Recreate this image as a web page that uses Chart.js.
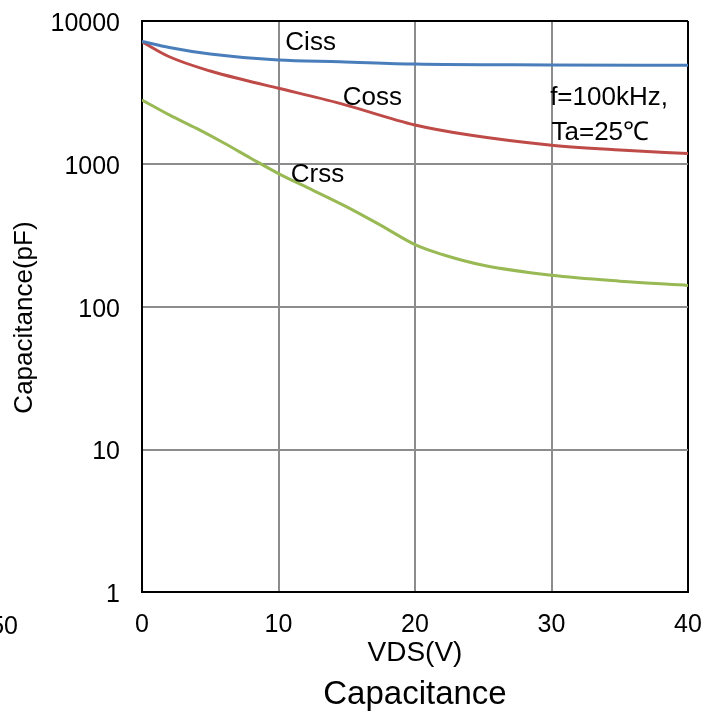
<!DOCTYPE html>
<html>
<head>
<meta charset="utf-8">
<script src="https://cdn.jsdelivr.net/npm/chart.js@4/dist/chart.umd.min.js"></script>
<style>
  html, body { margin: 0; padding: 0; background: #fff; }
  #wrap { width: 718px; height: 716px; }
</style>
</head>
<body>
<div id="wrap"><canvas id="chartCap"></canvas></div>
<script>
// ── Capacitance vs VDS ──────────────────────────────────────────────

const X_TICKS = [0, 10, 20, 30, 40];
const Y_TICKS = [1, 10, 100, 1000, 10000];

// VDS (V) sample points and capacitance (pF)
const CISS_VDS = [0, 2, 5, 10, 14.5, 20, 30, 40];
const CISS_PF  = [7200, 6520, 5870, 5330, 5190, 5000, 4930, 4900];

const COSS_VDS = [0, 2, 5, 7.5, 10, 14.5, 20, 24, 30, 35, 40];
const COSS_PF  = [7160, 5620, 4465, 3860, 3380, 2650, 1870, 1590, 1350, 1250, 1180];

const CRSS_VDS = [0, 2, 4, 6, 8, 10, 12.5, 15, 17.5, 20, 22, 25, 30, 35, 40];
const CRSS_PF  = [2800, 2200, 1770, 1400, 1090, 855, 655, 500, 371, 272, 232, 195, 166, 151, 141];

// in-plot labels: text, anchor VDS, anchor pF (left edge, vertical middle)
const LABEL_TEXT = ['Ciss', 'Coss', 'Crss', 'f=100kHz,', 'Ta=25\u2103'];
const LABEL_VDS  = [10.5, 14.7, 10.9, 29.9, 30];
const LABEL_PF   = [7010, 2890, 834, 2890, 1641];

const FONT      = '"Liberation Sans", Arial, sans-serif';
const GRID_GREY = '#8c8c8c';

const pts = (xs, ys) => xs.map((x, i) => ({ x, y: ys[i] }));

const labelsPlugin = {
  id: 'curveLabels',
  afterDatasetsDraw(chart) {
    const { ctx, scales: { x, y } } = chart;
    ctx.save();
    ctx.fillStyle = '#000';
    ctx.font = '26px ' + FONT;
    ctx.textAlign = 'left';
    ctx.textBaseline = 'middle';
    LABEL_TEXT.forEach((t, i) => {
      ctx.fillText(t, x.getPixelForValue(LABEL_VDS[i]), y.getPixelForValue(LABEL_PF[i]));
    });
    // leftover tick text clipped at the left edge
    ctx.textAlign = 'right';
    ctx.font = '25px ' + FONT;
    ctx.fillText('50', 18, 627);
    ctx.restore();
  }
};

const line = (label, data, color) => ({
  label, data,
  borderColor: color,
  borderWidth: 3,
  pointRadius: 0,
  cubicInterpolationMode: 'monotone',
  fill: false
});

new Chart(document.getElementById('chartCap'), {
  type: 'line',
  data: {
    datasets: [
      line('Ciss', pts(CISS_VDS, CISS_PF), '#4a7ebb'),
      line('Coss', pts(COSS_VDS, COSS_PF), '#be4b48'),
      line('Crss', pts(CRSS_VDS, CRSS_PF), '#98b954')
    ]
  },
  options: {
    responsive: true,
    maintainAspectRatio: false,
    animation: false,
    layout: { padding: { top: 21, right: 30, left: 0, bottom: 0 } },
    plugins: {
      legend:  { display: false },
      tooltip: { enabled: false },
      title: {
        display: true, position: 'bottom', fullSize: false, text: 'Capacitance', color: '#000',
        font: { family: FONT, size: 33, weight: 'normal' },
        padding: { top: 3, bottom: 1 }
      }
    },
    scales: {
      x: {
        type: 'linear', min: 0, max: 40,
        afterBuildTicks: s => { s.ticks = X_TICKS.map(v => ({ value: v })); },
        afterFit: s => { s.height = 80; s.paddingLeft = 0; s.paddingRight = 0; },
        ticks: { color: '#000', padding: 18, maxRotation: 0, font: { family: FONT, size: 25 } },
        grid: {
          drawTicks: false, lineWidth: 2,
          color: c => (c.tick && (c.tick.value === 40 || c.tick.value === 0)) ? '#000' : GRID_GREY
        },
        border: { color: '#000', width: 2 },
        title: { display: true, text: 'VDS(V)', color: '#000', padding: { top: 0, bottom: 2 }, font: { family: FONT, size: 28 } }
      },
      y: {
        type: 'logarithmic', min: 1, max: 10000,
        afterBuildTicks: s => { s.ticks = Y_TICKS.map(v => ({ value: v })); },
        afterFit: s => { s.width = 142; s.paddingTop = 0; s.paddingBottom = 0; },
        ticks: { color: '#000', padding: 22, labelOffset: 3, callback: v => String(v), font: { family: FONT, size: 25 } },
        grid: {
          drawTicks: false, lineWidth: 2,
          color: c => (c.tick && (c.tick.value === 10000 || c.tick.value === 1)) ? '#000' : GRID_GREY
        },
        border: { color: '#000', width: 2 },
        title: { display: true, text: 'Capacitance(pF)   ', color: '#000', padding: { top: 9, bottom: 0 }, font: { family: FONT, size: 26 } }
      }
    }
  },
  plugins: [labelsPlugin]
});
</script>
</body>
</html>
